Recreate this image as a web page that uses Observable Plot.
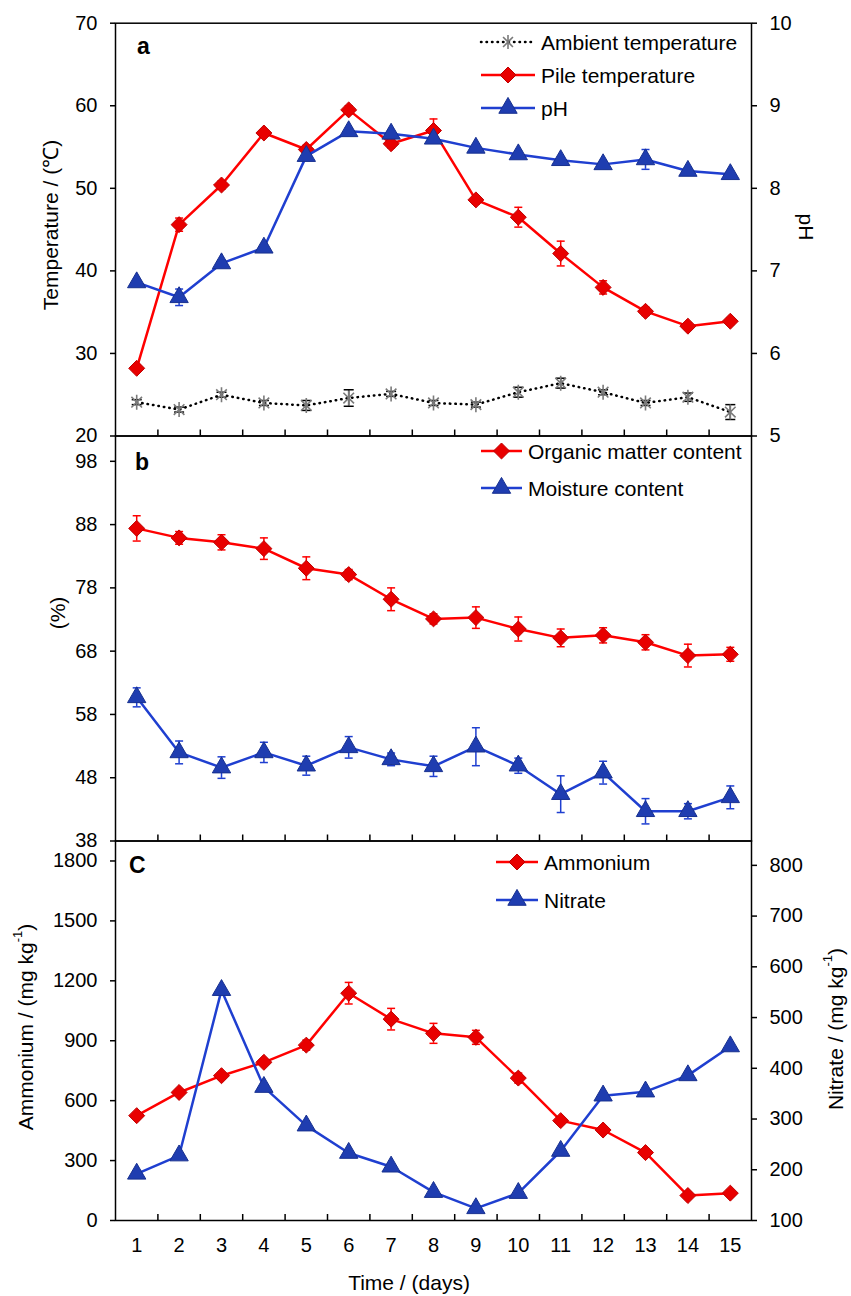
<!DOCTYPE html>
<html><head><meta charset="utf-8">
<script src="https://cdn.jsdelivr.net/npm/d3@7"></script>
<script src="https://cdn.jsdelivr.net/npm/@observablehq/plot@0.6"></script>
<style>
body{margin:0;background:#fff;}
#chart{position:relative;width:851px;height:1296px;background:#fff;}
#chart svg{position:absolute;left:0;top:0;overflow:visible;}
</style></head>
<body><div id="chart"></div>
<script>
// ---------------- data ----------------
const days = [1,2,3,4,5,6,7,8,9,10,11,12,13,14,15];
const halfTicks = [1.5,2.5,3.5,4.5,5.5,6.5,7.5,8.5,9.5,10.5,11.5,12.5,13.5,14.5];

const ambientTemp = [24.1,23.2,25.0,24.0,23.7,24.6,25.1,24.0,23.8,25.3,26.4,25.3,24.0,24.7,22.9];
const ambientErr  = [0.3,0.3,0.3,0.3,0.6,1.0,0.3,0.3,0.3,0.6,0.6,0.3,0.3,0.5,0.9];
const pileTemp    = [28.2,45.6,50.4,56.7,54.7,59.5,55.4,57.0,48.6,46.5,42.1,38.0,35.1,33.3,33.9];
const pileErr     = [0.4,0.8,0.5,0.4,0.5,0.5,0.5,1.4,0.5,1.2,1.5,0.8,0.5,0.4,0.4];
const pHValues    = [6.86,6.68,7.09,7.28,8.39,8.69,8.66,8.60,8.49,8.41,8.34,8.29,8.35,8.21,8.17];
const pHErr       = [0.04,0.1,0.04,0.04,0.04,0.04,0.04,0.04,0.04,0.04,0.04,0.04,0.12,0.04,0.04];

const organic     = [87.4,85.9,85.2,84.2,81.1,80.1,76.2,73.1,73.3,71.5,70.1,70.5,69.4,67.3,67.5];
const organicErr  = [2.0,1.0,1.2,1.7,1.8,0.8,1.8,0.8,1.7,1.9,1.4,1.2,1.2,1.8,1.1];
const moisture    = [60.7,52.0,49.6,52.0,49.9,52.8,50.9,49.8,52.9,49.9,45.4,48.8,42.7,42.7,44.9];
const moistureErr = [1.5,1.8,1.7,1.6,1.5,1.7,1.0,1.6,3.0,1.2,2.9,1.8,2.0,1.2,1.8];

const ammonium    = [525,641,725,792,878,1138,1008,937,917,713,500,453,340,125,137];
const ammoniumErr = [15,15,15,15,25,54,54,50,35,25,15,15,15,15,15];
const nitrate     = [192,228,554,363,287,233,206,156,124,154,237,346,354,386,443];

const tempTicks = [20,30,40,50,60,70];
const pHTicks = [5,6,7,8,9,10];
const pctTicks = [38,48,58,68,78,88,98];
const ammTicks = [0,300,600,900,1200,1500,1800];
const nitTicks = [100,200,300,400,500,600,700,800];

// ---------------- styling ----------------
const W = 851, H = 1296, ML = 115, MR = 100;
const FONT = '"Liberation Sans", Arial, sans-serif';
const RED = "#ff0000", RED_M = "#e80000", RED_E = "#c00000";
const BLUE = "#1f3fd0", BLUE_M = "#1f3db0", BLUE_E = "#17308f";

const starSymbol = {draw(ctx, size){ const r = Math.sqrt(size/Math.PI), s = r*0.7071;
  ctx.moveTo(0,-r); ctx.lineTo(0,r); ctx.moveTo(-s,-s); ctx.lineTo(s,s); ctx.moveTo(-s,s); ctx.lineTo(s,-s);} };
const capSymbol = {draw(ctx, size){ const r = Math.sqrt(size/Math.PI); ctx.moveTo(-r,0); ctx.lineTo(r,0);} };

function rowsOf(vals, errs){ return days.map((d,i)=>({day:d, v:vals[i], e: errs ? errs[i] : 0})); }

function seriesMarks(rows, {stroke, lineWidth=2.5, dash=null, symbol, r, fill, mstroke, mwidth=1, errColor, capR=4}){
  const m = [];
  m.push(Plot.line(rows, {x:"day", y:"v", stroke, strokeWidth:lineWidth, strokeDasharray:dash, strokeLinecap: dash ? "round" : "butt"}));
  const er = rows.filter(d=>d.e>0);
  if (er.length){
    m.push(Plot.ruleX(er, {x:"day", y1:d=>d.v-d.e, y2:d=>d.v+d.e, stroke:errColor, strokeWidth:1.5}));
    m.push(Plot.dot(er, {x:"day", y:d=>d.v+d.e, symbol:capSymbol, r:capR, fill:"none", stroke:errColor, strokeWidth:1.5}));
    m.push(Plot.dot(er, {x:"day", y:d=>d.v-d.e, symbol:capSymbol, r:capR, fill:"none", stroke:errColor, strokeWidth:1.5}));
  }
  m.push(Plot.dot(rows, {x:"day", y:"v", symbol, r, fill, stroke:mstroke, strokeWidth:mwidth}));
  return m;
}

const fmt = d => String(d);

function panel({top, bottom, yDomain, yTicks, anchor, marks, primary, xLabels}){
  const innerH = bottom - top;
  const base = [];
  if (primary){
    base.push(Plot.frame({stroke:"black", strokeWidth:1.5}));
    base.push(Plot.tickX(halfTicks, {x:d=>d, insetTop: innerH - 6, stroke:"black", strokeWidth:1.5}));
  }
  base.push(Plot.axisY(yTicks, {anchor, tickSize:5, tickPadding:13, label:null, strokeWidth:1.5, tickFormat:fmt}));
  if (xLabels) base.push(Plot.axisX(days, {anchor:"bottom", tickSize:0, tickPadding:17, label:null, tickFormat:fmt}));
  return Plot.plot({
    width:W, height:H, marginLeft:ML, marginRight:MR, marginTop:top, marginBottom:H-bottom,
    style:{background:"transparent", fontFamily:FONT, fontSize:"20px", color:"black", overflow:"visible"},
    x:{domain:[0.5,15.5], axis: xLabels ? undefined : null},
    y:{domain:yDomain},
    marks:[...base, ...marks]
  });
}

const chart = document.getElementById("chart");
const A = [22.7, 435.5], B = [435.5, 840.5], C = [840.5, 1220];

// Panel a
chart.append(panel({top:A[0], bottom:A[1], yDomain:[20,70], yTicks:tempTicks, anchor:"left", primary:true,
  marks:[
    ...seriesMarks(rowsOf(ambientTemp, ambientErr), {stroke:"black", lineWidth:2.5, dash:"0.5,5", symbol:starSymbol, r:7.5, fill:"none", mstroke:"#7a7a7a", mwidth:1.6, errColor:"black", capR:5}),
    ...seriesMarks(rowsOf(pileTemp, pileErr), {stroke:RED, symbol:"diamond2", r:7.2, fill:RED_M, mstroke:RED_E, errColor:RED})
  ]}));
chart.append(panel({top:A[0], bottom:A[1], yDomain:[5,10], yTicks:pHTicks, anchor:"right", primary:false,
  marks: seriesMarks(rowsOf(pHValues, pHErr), {stroke:BLUE, symbol:"triangle", r:6.8, fill:BLUE_M, mstroke:BLUE_E, errColor:BLUE})}));

// Panel b
chart.append(panel({top:B[0], bottom:B[1], yDomain:[38,102], yTicks:pctTicks, anchor:"left", primary:true,
  marks:[
    ...seriesMarks(rowsOf(organic, organicErr), {stroke:RED, symbol:"diamond2", r:7.2, fill:RED_M, mstroke:RED_E, errColor:RED}),
    ...seriesMarks(rowsOf(moisture, moistureErr), {stroke:BLUE, symbol:"triangle", r:6.8, fill:BLUE_M, mstroke:BLUE_E, errColor:BLUE})
  ]}));

// Panel c
chart.append(panel({top:C[0], bottom:C[1], yDomain:[0,1900], yTicks:ammTicks, anchor:"left", primary:true, xLabels:true,
  marks: seriesMarks(rowsOf(ammonium, ammoniumErr), {stroke:RED, symbol:"diamond2", r:7.2, fill:RED_M, mstroke:RED_E, errColor:RED})}));
chart.append(panel({top:C[0], bottom:C[1], yDomain:[100,848], yTicks:nitTicks, anchor:"right", primary:false,
  marks: seriesMarks(rowsOf(nitrate, null), {stroke:BLUE, symbol:"triangle", r:6.8, fill:BLUE_M, mstroke:BLUE_E, errColor:BLUE})}));

// ---------------- text, titles and legends ----------------
const svg = d3.create("svg").attr("width", W).attr("height", H)
  .style("font-family", FONT).style("font-size", "21px");

function label(x, y, txt, {rotate=0, anchor="middle", weight="normal", size=21}={}){
  return svg.append("text").attr("transform", `translate(${x},${y}) rotate(${rotate})`)
    .attr("text-anchor", anchor).attr("dominant-baseline", "central")
    .attr("font-weight", weight).attr("font-size", size).attr("fill", "black").text(txt);
}
label(137, 46, "a", {anchor:"start", weight:"bold", size:23});
label(135, 462, "b", {anchor:"start", weight:"bold", size:23});
label(129, 865, "C", {anchor:"start", weight:"bold", size:23});

label(50, 225, "Temperature / (℃)", {rotate:-90});
label(806, 227, "pH", {rotate:90});
label(57, 613, "(%)", {rotate:-90});
label(409, 1282, "Time / (days)");

function supLabel(x, y, main, rotate){
  const t = svg.append("text").attr("transform", `translate(${x},${y}) rotate(${rotate})`)
    .attr("text-anchor", "middle").attr("dominant-baseline", "central").attr("fill", "black");
  t.append("tspan").text(main);
  t.append("tspan").attr("font-size", 13).attr("dy", -8).text("-1");
  t.append("tspan").attr("dy", 8).text(")");
}
supLabel(25, 1027, "Ammonium  / (mg kg", -90);
supLabel(835, 1029, "Nitrate / (mg kg", -90);

function legendRow(x0, x1, y, txt, {stroke, dash=null, symbol, size, fill, mstroke, mwidth=1}){
  svg.append("line").attr("x1", x0).attr("x2", x1).attr("y1", y).attr("y2", y)
    .attr("stroke", stroke).attr("stroke-width", 2.5).attr("stroke-dasharray", dash)
    .attr("stroke-linecap", dash ? "round" : "butt");
  svg.append("path").attr("d", d3.symbol(symbol, size)()).attr("transform", `translate(${(x0+x1)/2},${y})`)
    .attr("fill", fill).attr("stroke", mstroke).attr("stroke-width", mwidth);
  svg.append("text").attr("x", x1 + 6).attr("y", y).attr("dominant-baseline", "central")
    .attr("fill", "black").text(txt);
}
const dia = {stroke:RED, symbol:d3.symbolDiamond2, size:Math.PI*7.2*7.2, fill:RED_M, mstroke:RED_E};
const tri = {stroke:BLUE, symbol:d3.symbolTriangle, size:Math.PI*6.8*6.8, fill:BLUE_M, mstroke:BLUE_E};
legendRow(481, 535, 42, "Ambient temperature", {stroke:"black", dash:"0.5,5", symbol:starSymbol, size:Math.PI*7*7, fill:"none", mstroke:"#7a7a7a", mwidth:1.6});
legendRow(481, 535, 75, "Pile temperature", dia);
legendRow(481, 535, 108, "pH", tri);
legendRow(481, 522, 451, "Organic matter content", dia);
legendRow(481, 522, 488, "Moisture content", tri);
legendRow(496, 538, 862, "Ammonium", dia);
legendRow(496, 538, 900, "Nitrate", tri);

chart.append(svg.node());
</script>
</body></html>
